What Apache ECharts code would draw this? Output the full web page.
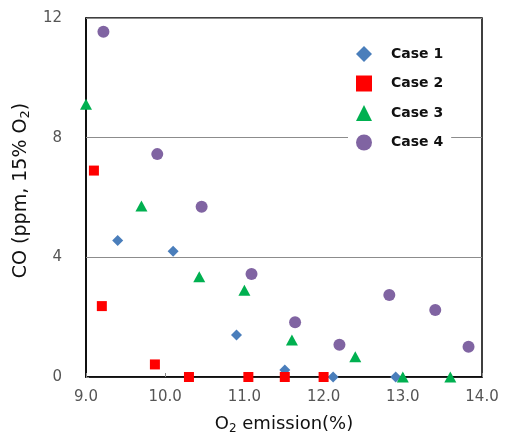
<!DOCTYPE html>
<html><head><meta charset="utf-8">
<script src="https://cdn.jsdelivr.net/npm/echarts@6/dist/echarts.min.js"></script>
<style>html,body{margin:0;padding:0;background:#fff}#c{width:507px;height:439px}</style>
</head><body><div id="c"></div>
<script>
const seriesNames = ['Case 1', 'Case 2', 'Case 3', 'Case 4'];
const case1 = [[9.40,4.56],[10.10,4.20],[10.90,1.40],[11.51,0.23],[12.12,0],[12.91,0]];
const case2 = [[9.10,6.90],[9.20,2.37],[9.87,0.42],[10.30,0],[11.05,0],[11.51,0],[12.00,0]];
const case3 = [[9.00,9.12],[9.70,5.72],[10.43,3.35],[11.00,2.90],[11.60,1.24],[12.40,0.68],[13.00,0],[13.60,0]];
const case4 = [[9.22,11.54],[9.90,7.45],[10.46,5.69],[11.09,3.44],[11.64,1.83],[12.20,1.08],[12.83,2.74],[13.41,2.24],[13.83,1.01]];
const xTicks = [9, 10, 11, 12, 13, 14];
const yTicks = [0, 4, 8, 12];

const colors = ['#4A7EBB', '#FF0000', '#00B050', '#8064A2'];
const symbols = ['diamond', 'rect', 'triangle', 'circle'];
const sizes = [[11,11],[10,10],[12,11],[12,12]];
const datas = [case1, case2, case3, case4];

const chart = echarts.init(document.getElementById('c'));
const tickFont = {fontFamily: 'DejaVu Sans', fontSize: 15, color: '#555'};
chart.setOption({
  animation: false,
  grid: {left: 86, right: 25, top: 18, bottom: 62, show: true, borderColor: '#000', borderWidth: 1.5,
    backgroundColor: 'transparent', containLabel: false, outerBoundsMode: 'none'},
  xAxis: {
    type: 'value', min: xTicks[0], max: xTicks[xTicks.length - 1], interval: 1,
    axisLine: {show: true, lineStyle: {color: '#000', width: 1.5}},
    axisTick: {show: true, inside: true, length: 4, lineStyle: {color: '#888'}},
    splitLine: {show: false},
    axisLabel: Object.assign({margin: 13, formatter: v => v.toFixed(1)}, tickFont),
    name: 'O{sub|2} emission(%)', nameLocation: 'middle', nameGap: 37,
    nameTextStyle: {fontFamily: 'DejaVu Sans', fontSize: 18, color: '#111',
      rich: {sub: {fontFamily: 'DejaVu Sans', fontSize: 12, color: '#111', padding: [9, 0, 0, 0]}}}
  },
  yAxis: {
    type: 'value', min: yTicks[0], max: yTicks[yTicks.length - 1], interval: 4,
    axisLine: {show: true, lineStyle: {color: '#000', width: 1.5}},
    axisTick: {show: true, inside: true, length: 3, lineStyle: {color: '#888'}},
    splitLine: {show: true, lineStyle: {color: '#8c8c8c', width: 1}},
    axisLabel: Object.assign({margin: 24}, tickFont),
    name: 'CO (ppm, 15% O{sub|2})', nameLocation: 'middle', nameGap: 53,
    nameTextStyle: {fontFamily: 'DejaVu Sans', fontSize: 19, color: '#111', padding: [0, 0, 0, 14],
      rich: {sub: {fontFamily: 'DejaVu Sans', fontSize: 13, color: '#111', padding: [9, 0, 0, 0]}}}
  },
  legend: {
    orient: 'vertical', left: 348, top: 44, itemGap: 13.5,
    itemWidth: 16, itemHeight: 16,
    backgroundColor: '#fff', padding: [2, 8, 2, 8],
    textStyle: {fontFamily: 'DejaVu Sans', fontSize: 14, fontWeight: 'bold', color: '#111', padding: [0, 0, 0, 14]},
    data: seriesNames.map((n, i) => ({name: n, icon: symbols[i]}))
  },
  series: datas.map((d, i) => ({
    name: seriesNames[i], type: 'scatter', data: d, clip: false,
    symbol: symbols[i], symbolSize: sizes[i],
    itemStyle: {color: colors[i], opacity: 1}
  }))
});
</script></body></html>
